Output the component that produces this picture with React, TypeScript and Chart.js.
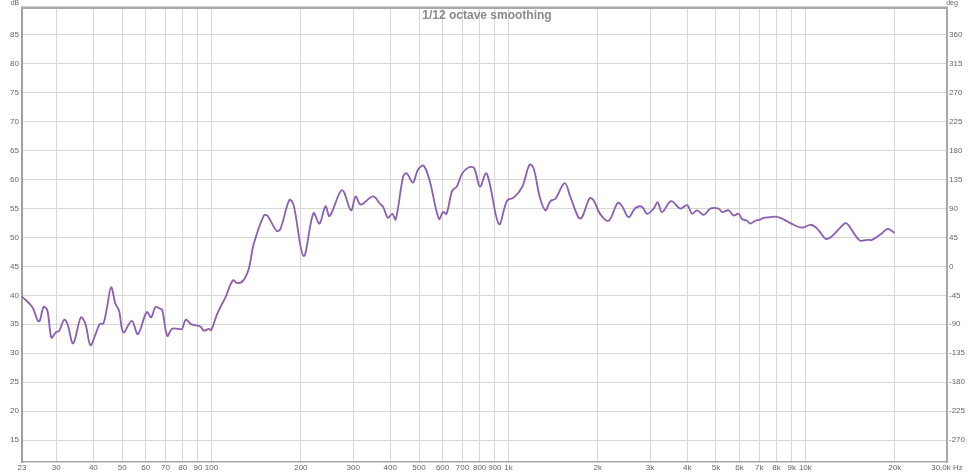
import React, { useEffect, useRef } from "react";
import { Chart, registerables } from "chart.js";

Chart.register(...registerables);

const freqs: number[] = [
  23, 24.9, 26.0, 26.4, 27.2, 28.0, 28.9, 29.9, 30.7, 31.9, 32.7, 34.2, 36.3, 37.6, 39.1, 40.7, 42.1, 43.2,
  44.5, 45.9, 47.5, 48.8, 50.5, 53.9, 56.5, 60.5, 62.6, 64.8, 67.0, 68.2, 71.0, 73.5, 77.6, 79.6, 81.8,
  85.0, 86.7, 91.8, 94.2, 98.0, 99.8, 104.5, 111.5, 118, 122, 128, 133.5, 138.8, 150, 154, 166, 170.7,
  183, 189, 204.4, 220.5, 231, 242, 250, 275, 295, 305.7, 318, 350, 370, 378.5, 392.7, 406, 417, 442,
  454, 477, 495.6, 518, 543, 583.5, 602.6, 618.7, 646.6, 670, 697.5, 733.6, 765.7, 802, 840, 865, 930,
  990, 1042, 1112, 1179, 1217, 1275, 1332, 1385, 1440, 1547, 1617, 1725, 1770, 1878, 1937, 2041, 2177,
  2334, 2414, 2541, 2677, 2820, 2931, 3085, 3182, 3292, 3531, 3795, 3997, 4155, 4319, 4547, 4787, 5107,
  5243, 5519, 5735, 5963, 6123, 6364, 6530, 6786, 7054, 7237, 7625, 7925, 8237, 8679, 9134, 9747, 10390,
  10807, 11230, 11677, 12140, 13000, 13637, 13990, 15235, 16135, 16770, 17885, 18930, 19980,
];

const splDb: number[] = [
  39.8, 38.0, 35.6, 35.6, 38.0, 37.4, 32.7, 33.6, 33.9, 35.8, 35.1, 31.7, 36.2, 35.1, 31.4, 33.3, 35.1, 35.1,
  38.0, 41.4, 38.5, 37.4, 33.6, 35.6, 33.3, 37.1, 36.2, 38.0, 37.7, 37.5, 33.0, 34.2, 34.2, 34.2, 35.8,
  35.1, 34.9, 34.6, 33.9, 34.2, 34.0, 36.8, 39.7, 42.6, 42.1, 42.6, 44.6, 48.9, 53.8, 53.8, 51.1, 51.5,
  56.5, 55.6, 46.8, 54.2, 52.4, 55.4, 53.7, 58.2, 54.7, 57.1, 55.7, 57.1, 55.8, 55.3, 53.4, 54.1, 53.1, 60.5,
  61.1, 59.5, 61.7, 62.4, 59.8, 53.2, 54.4, 54.1, 58.1, 58.8, 61.0, 62.1, 62.0, 58.8, 61.1, 59.3, 52.3,
  56.4, 56.9, 58.7, 62.6, 61.9, 57.0, 54.7, 56.3, 56.7, 59.4, 57.0, 53.4, 53.5, 56.8, 56.4, 54.0, 52.9,
  56.0, 55.4, 53.5, 55.1, 55.3, 54.1, 55.0, 56.1, 54.4, 56.3, 55.0, 55.6, 54.1, 54.7, 53.9, 55.0, 55.0,
  54.4, 54.7, 53.8, 54.1, 53.2, 52.9, 52.4, 52.9, 53.1, 53.4, 53.5, 53.6, 53.4, 52.8, 52.2, 51.7, 52.2,
  51.8, 50.9, 49.8, 50.0, 51.5, 52.5, 52.1, 49.5, 49.6, 49.6, 50.5, 51.5, 50.8,
];

const xTickValues: number[] = [
  23, 30, 40, 50, 60, 70, 80, 90, 100, 200, 300, 400, 500, 600, 700, 800, 900, 1000,
  2000, 3000, 4000, 5000, 6000, 7000, 8000, 9000, 10000, 20000, 30000,
];
const xTickLabels: string[] = [
  "23", "30", "40", "50", "60", "70", "80", "90", "100", "200", "300", "400", "500", "600", "700", "800", "900", "1k",
  "2k", "3k", "4k", "5k", "6k", "7k", "8k", "9k", "10k", "20k", "30,0k Hz",
];
const dbTicks: number[] = [15, 20, 25, 30, 35, 40, 45, 50, 55, 60, 65, 70, 75, 80, 85];
const degTicks: number[] = [-270, -225, -180, -135, -90, -45, 0, 45, 90, 135, 180, 225, 270, 315, 360];

const titleText = "1/12 octave smoothing";
const DB_MIN = 11.2;
const DB_MAX = 89.7;

const FONT = '"Liberation Sans", Arial, sans-serif';

export default function App() {
  const ref = useRef<HTMLCanvasElement | null>(null);

  useEffect(() => {
    if (!ref.current) return;
    const overlay = {
      id: "overlay",
      afterDraw(chart: any) {
        const { ctx, chartArea } = chart;
        ctx.save();
        ctx.strokeStyle = "#a8a8a8";
        ctx.lineWidth = 2.5;
        ctx.beginPath();
        ctx.moveTo(chartArea.left - 1, chartArea.top);
        ctx.lineTo(chartArea.right + 1, chartArea.top);
        ctx.stroke();
        ctx.fillStyle = "#8a8a8a";
        ctx.font = `bold 12px ${FONT}`;
        ctx.textAlign = "center";
        ctx.textBaseline = "middle";
        ctx.fillText(titleText, 487, 16);
        ctx.fillStyle = "#666";
        ctx.font = `7px ${FONT}`;
        ctx.fillText("dB", 15, 3);
        ctx.fillText("deg", 952, 3);
        ctx.restore();
      },
    };

    const chart = new Chart(ref.current, {
      type: "line",
      data: {
        datasets: [
          {
            data: freqs.map((f, i) => ({ x: f, y: splDb[i] })),
            borderColor: "#8a5fb2",
            borderWidth: 1.8,
            pointRadius: 0,
            tension: 0.35,
            fill: false,
            yAxisID: "y",
          },
        ],
      },
      options: {
        animation: false,
        responsive: false,
        events: [],
        layout: { padding: { top: 7, left: 0, right: 0, bottom: 0 } },
        plugins: { legend: { display: false }, tooltip: { enabled: false }, title: { display: false } },
        scales: {
          x: {
            type: "logarithmic",
            min: 23,
            max: 30000,
            afterBuildTicks: (s: any) => {
              s.ticks = xTickValues.map((v) => ({ value: v }));
            },
            afterFit: (s: any) => {
              s.height = 13;
            },
            ticks: {
              autoSkip: false,
              maxRotation: 0,
              padding: 1,
              color: "#666",
              font: { family: FONT, size: 8 },
              callback: (v: any) => {
                const i = xTickValues.indexOf(Number(v));
                return i >= 0 ? xTickLabels[i] : "";
              },
            },
            grid: {
              drawTicks: false,
              color: (c: any) =>
                c.tick && (c.tick.value === 23 || c.tick.value === 30000) ? "rgba(0,0,0,0)" : "#d8d8d8",
              lineWidth: 1,
            },
            border: { display: true, color: "#a8a8a8", width: 1.5 },
          },
          y: {
            type: "linear",
            position: "left",
            min: DB_MIN,
            max: DB_MAX,
            afterBuildTicks: (s: any) => {
              s.ticks = dbTicks.map((v) => ({ value: v }));
            },
            afterFit: (s: any) => {
              s.width = 22;
            },
            ticks: { padding: 3, color: "#666", font: { family: FONT, size: 8 } },
            grid: { drawTicks: false, color: "#d8d8d8", lineWidth: 1 },
            border: { display: true, color: "#a0a0a0", width: 2 },
          },
          y2: {
            type: "linear",
            position: "right",
            min: (DB_MIN - 45) * 9,
            max: (DB_MAX - 45) * 9,
            afterBuildTicks: (s: any) => {
              s.ticks = degTicks.map((v) => ({ value: v }));
            },
            afterFit: (s: any) => {
              s.width = 28;
            },
            ticks: { padding: 2, color: "#666", font: { family: FONT, size: 8 } },
            grid: { display: false, drawTicks: false },
            border: { display: true, color: "#a8a8a8", width: 2 },
          },
        },
      },
      plugins: [overlay],
    } as any);
    return () => chart.destroy();
  }, []);

  return (
    <div style={{ position: "fixed", left: 0, top: 0, width: 975, height: 475, background: "#fff" }}>
      <canvas ref={ref} width={975} height={475} style={{ display: "block" }} />
    </div>
  );
}
